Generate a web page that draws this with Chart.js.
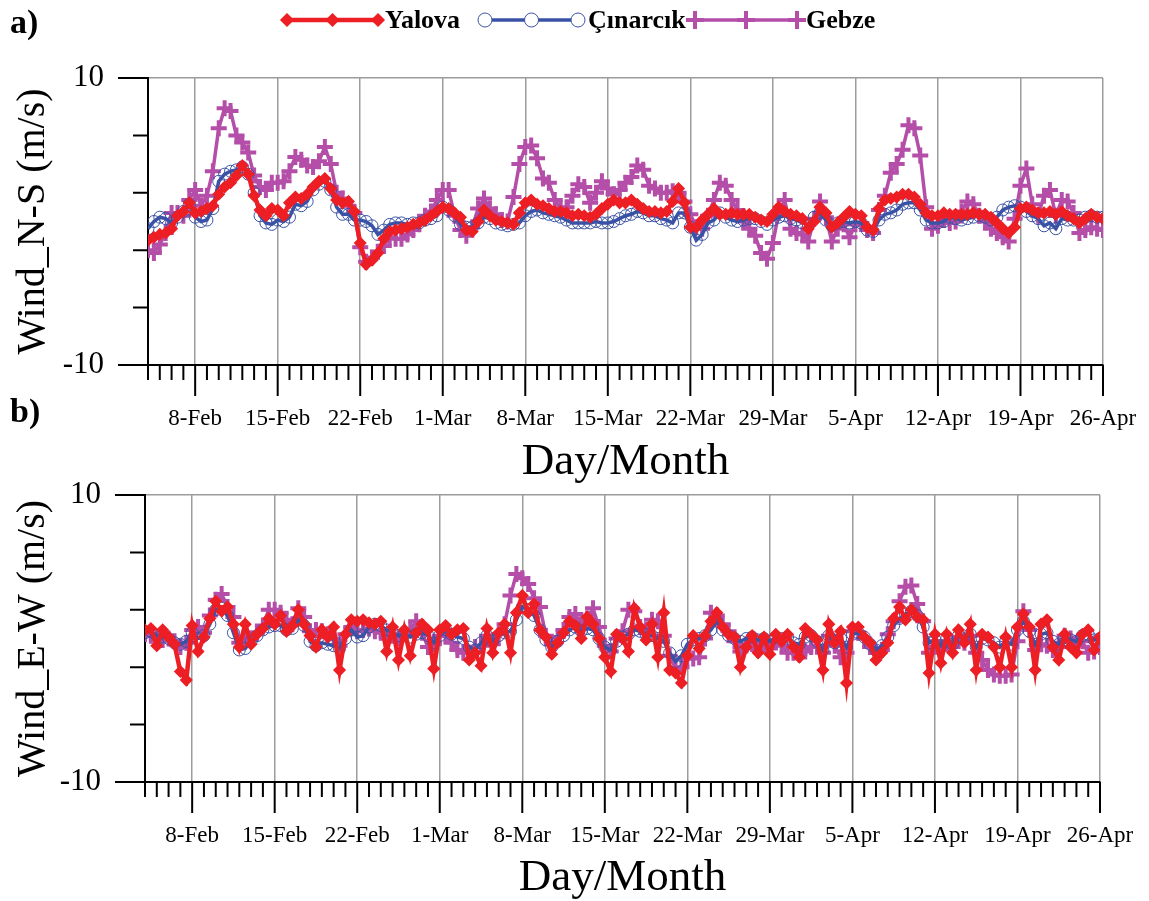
<!DOCTYPE html>
<html>
<head>
<meta charset="utf-8">
<script src="https://cdn.jsdelivr.net/npm/chart.js"></script>
<style>
  body { margin: 0; background: #fff; width: 1149px; height: 901px; position: relative; overflow: hidden; }
  canvas { position: absolute; left: 0; }
  #chartA { top: 0; }
  #chartB { top: 440px; }
  .tag { position: absolute; left: 10px; font: bold 34px 'Liberation Serif', serif; line-height: 1; }
</style>
</head>
<body>
<canvas id="chartA" width="1149" height="485"></canvas>
<canvas id="chartB" width="1149" height="461"></canvas>
<div class="tag" style="top:5px">a)</div>
<div class="tag" style="top:394px">b)</div>
<script>
// samples every 12 h, day 0 = 4-Feb
const STEP = 0.5
const LAST_DAY = 81
const stations = ['Yalova', 'Çınarcık', 'Gebze']
const weekLabels = ['8-Feb', '15-Feb', '22-Feb', '1-Mar', '8-Mar', '15-Mar', '22-Mar', '29-Mar', '5-Apr', '12-Apr', '19-Apr', '26-Apr']
const weekDays = [4, 11, 18, 25, 32, 39, 46, 53, 60, 67, 74, 81]

// north-south component (m/s)
const yalovaNS = [
  -1.3,-1.1,-0.9,-0.8,-0.5,0.4,0.7,1.3,0.6,0.7,
  0.9,1.1,1.9,2.4,2.7,3.2,3.9,3.3,1.8,0.8,
  0.4,0.9,0.8,0.4,1.3,1.7,1.6,1.9,2.4,2.8,
  3.0,2.3,1.5,1.3,1.4,0.7,-1.5,-3.0,-2.7,-2.2,
  -1.2,-0.7,-0.6,-0.5,-0.4,-0.2,-0.1,0.1,0.4,0.7,
  1.0,0.9,0.6,0.3,-0.6,-0.7,0.0,0.8,0.4,0.1,
  0.0,-0.1,-0.2,0.6,1.3,1.5,1.2,1.1,0.9,0.7,
  0.7,0.6,0.4,0.5,0.4,0.3,0.5,0.9,1.2,1.5,
  1.3,1.3,1.5,1.2,0.9,0.7,0.7,0.6,0.7,1.4,
  2.3,1.3,-0.4,-0.4,0.1,0.5,0.9,0.5,0.5,0.6,
  0.5,0.5,0.5,0.3,0.1,0.0,0.5,1.0,0.7,0.5,
  0.4,0.2,-0.5,0.0,1.0,0.6,-0.4,-0.1,0.3,0.7,
  0.5,0.4,-0.4,-0.6,0.9,1.5,1.6,1.7,1.9,1.9,
  1.7,1.2,0.6,0.4,0.4,0.6,0.5,0.5,0.5,0.5,
  0.6,0.5,0.5,0.3,-0.1,-0.5,-0.8,-0.4,0.9,1.0,
  0.8,0.6,0.6,0.7,0.5,0.7,0.4,0.2,-0.1,0.2,
  0.5,0.3,0.2
]
const cinarcikNS = [
  -0.5,0.0,0.3,0.2,-0.1,0.3,0.7,1.2,0.3,0.0,
  0.1,0.9,2.8,3.3,3.5,3.6,3.8,3.3,2.0,0.4,
  -0.1,-0.2,0.1,0.0,0.3,1.2,1.1,1.4,2.2,2.6,
  2.8,2.2,1.0,0.5,0.5,0.1,0.1,0.0,-0.3,-0.9,
  -0.6,-0.2,-0.1,-0.1,-0.2,-0.1,-0.1,0.1,0.2,0.4,
  1.0,0.8,0.4,-0.2,-0.4,-0.4,-0.1,0.3,0.2,-0.1,
  -0.2,-0.3,-0.2,-0.1,0.4,0.7,0.8,0.6,0.5,0.4,
  0.3,0.1,-0.1,-0.1,-0.1,-0.1,0.0,-0.1,-0.1,0.0,
  0.2,0.4,0.5,0.7,0.6,0.4,0.4,0.2,0.1,-0.1,
  0.6,0.6,-0.4,-1.3,-0.9,-0.1,0.1,0.6,0.3,0.1,
  0.0,0.1,0.2,0.2,0.0,-0.2,0.1,0.3,0.4,0.2,
  0.1,-0.1,-0.2,0.3,0.6,0.1,-0.3,-0.1,0.0,-0.1,
  0.0,-0.1,-0.6,-0.7,0.1,0.5,0.6,0.8,1.2,1.3,
  1.3,0.8,0.1,-0.1,-0.1,0.0,0.3,0.2,0.1,0.2,
  0.3,0.4,0.3,0.1,0.3,0.8,1.0,1.1,1.0,0.7,
  0.4,0.2,-0.3,-0.1,-0.5,0.2,0.1,0.1,0.1,0.3,
  0.4,0.3,0.3
]
const gebzeNS = [
  -2.0,-2.2,-1.6,-0.8,0.6,0.6,0.4,1.5,2.2,1.1,
  1.8,3.5,6.5,7.9,7.7,6.0,5.5,4.8,3.2,2.4,
  2.2,2.7,2.7,2.8,3.5,4.5,4.3,3.9,3.8,4.2,
  5.2,4.0,2.0,1.6,1.1,0.6,-1.8,-2.8,-2.5,-2.1,
  -1.7,-1.1,-1.2,-1.2,-0.9,-0.6,-0.2,0.4,0.7,1.5,
  2.2,2.2,0.4,-0.6,-1.0,-0.4,0.9,1.6,0.9,0.5,
  0.1,0.0,1.7,4.0,5.2,5.3,4.4,3.0,2.7,1.5,
  0.9,1.0,1.8,2.6,2.4,1.3,2.0,2.8,2.3,1.9,
  2.2,2.7,3.1,3.9,3.6,2.5,2.3,2.0,2.0,2.1,
  2.0,1.4,0.5,-0.4,-0.5,0.4,1.5,2.7,2.5,1.5,
  0.8,0.0,-0.5,-1.0,-2.2,-2.6,-1.5,0.6,1.5,-0.5,
  -0.8,-0.9,-1.4,0.2,1.4,0.3,-1.4,-0.5,-0.2,-1.1,
  -0.2,-0.1,-0.6,-0.8,0.8,1.8,3.4,4.0,5.0,6.7,
  6.5,4.6,1.0,-0.5,-0.3,0.1,-0.1,0.0,0.7,1.4,
  1.2,0.4,0.0,-0.5,-0.8,-1.1,-1.4,0.2,2.5,3.7,
  1.2,0.4,1.8,2.2,0.4,1.5,1.4,0.6,-0.8,-0.6,
  -0.4,-0.5,-0.6
]

// east-west component (m/s)
const yalovaEW = [
  0.6,0.7,-0.5,0.6,0.1,-0.4,-2.3,-2.9,0.9,-0.9,
  0.1,1.4,2.6,1.9,2.2,1.0,-0.6,1.0,-0.4,0.3,
  0.7,1.4,1.0,1.6,0.5,0.9,2.0,1.0,0.2,-0.6,
  0.6,0.1,0.8,-2.2,0.3,1.3,1.2,1.3,1.1,1.0,
  1.2,-0.9,0.8,-1.5,0.6,-1.2,0.4,1.0,0.6,-2.1,
  0.6,0.9,0.3,0.6,0.7,-1.5,-1.0,-1.9,0.7,-1.0,
  0.4,1.0,-1.0,1.8,3.0,1.8,2.4,0.6,0.1,-1.1,
  -0.3,0.4,1.2,0.9,0.0,1.5,1.0,0.0,-1.3,-2.3,
  0.3,0.0,-0.9,2.1,0.8,-0.1,1.0,-1.3,1.8,-2.2,
  -2.4,-3.1,-1.2,0.2,-0.7,0.2,1.2,1.8,0.8,0.3,
  0.1,-2.0,-0.6,0.2,-1.0,0.1,-1.1,0.3,-0.2,0.3,
  -0.6,-1.3,0.7,0.3,-0.1,-2.2,1.0,-0.3,0.5,-3.1,
  0.8,0.8,0.1,-0.3,-1.5,-1.0,-0.3,1.4,2.2,1.3,
  2.0,1.5,1.3,-2.4,0.3,-1.7,0.3,-1.0,0.6,-0.3,
  1.0,-2.2,0.3,0.1,-0.6,-2.0,0.1,-2.0,0.8,1.7,
  0.8,-2.2,1.0,1.3,-0.6,-1.5,0.3,-0.6,-1.0,0.3,
  0.6,-0.8,0.1
]
const cinarcikEW = [
  0.4,0.5,0.2,0.1,0.0,-0.3,-0.4,-0.2,0.4,0.0,
  0.2,1.0,2.0,2.1,1.6,0.4,-0.8,-0.7,-0.2,0.2,
  0.6,0.8,0.9,0.9,0.6,0.7,1.3,0.9,-0.2,-0.5,
  -0.3,-0.4,-0.5,-0.7,0.0,0.6,0.1,0.2,0.8,1.0,
  0.9,0.6,0.4,0.2,0.3,0.1,0.3,0.4,0.2,-0.3,
  0.2,0.6,0.3,0.1,0.0,-0.6,-0.8,-0.3,0.2,-0.2,
  0.2,0.4,0.5,1.3,2.2,2.0,1.6,0.6,-0.1,-0.6,
  -0.2,0.2,0.6,0.8,0.5,0.7,0.6,0.0,-0.6,-0.8,
  -0.2,0.1,0.3,0.6,0.5,0.3,0.2,0.0,-0.2,-1.0,
  -1.6,-1.2,-0.4,-0.1,0.0,0.2,0.6,1.2,0.6,0.2,
  0.0,-0.2,0.0,0.1,-0.1,0.0,-0.2,0.1,0.0,0.1,
  -0.3,-0.4,0.1,0.2,-0.2,-0.8,0.2,-0.3,0.0,-0.6,
  0.3,0.4,0.1,-0.4,-0.8,-0.5,0.1,0.9,1.4,1.7,
  1.9,1.6,0.8,-0.3,-0.1,-0.5,0.0,-0.4,0.2,-0.1,
  0.3,-0.6,0.0,-0.1,-0.3,-0.6,-0.2,-0.4,0.6,1.2,
  0.5,-0.4,0.3,0.4,-0.2,-0.4,0.1,-0.1,-0.2,0.2,
  0.3,-0.1,0.0
]
const gebzeEW = [
  0.3,0.2,0.0,-0.1,0.0,-0.2,-0.6,-0.3,0.6,0.8,
  0.4,1.6,2.7,3.1,2.2,1.5,-0.3,-0.1,0.0,0.4,
  0.9,2.0,2.0,1.8,1.3,1.0,2.1,1.5,0.5,0.6,
  0.5,0.3,0.0,-0.5,0.3,0.8,0.5,0.6,0.7,0.5,
  0.4,0.1,0.2,0.0,0.3,0.6,1.2,0.4,-0.6,-0.4,
  0.2,0.2,-0.3,-0.8,-1.0,-1.0,-0.6,-0.5,0.2,-0.4,
  0.3,1.0,3.0,4.5,4.2,3.8,2.8,2.2,0.2,-0.4,
  0.1,0.6,1.5,1.7,1.0,1.4,2.1,0.8,-0.5,-0.9,
  0.0,0.5,2.0,1.9,0.8,0.6,1.3,1.2,0.2,-1.2,
  -2.1,-2.0,-1.4,-1.4,-1.3,0.0,1.8,1.6,1.0,0.5,
  -0.2,-0.9,-0.4,-0.2,-0.8,-0.5,-0.7,-0.2,-0.5,-1.0,
  -1.0,-1.1,-0.9,-0.6,-0.5,-1.0,0.2,-0.5,-1.3,-1.0,
  0.5,0.4,0.0,-0.6,-1.0,-0.8,0.3,1.2,2.6,3.6,
  3.7,2.4,1.2,-1.0,-0.2,-0.8,-0.3,-0.6,0.1,-0.3,
  0.2,-1.0,-1.5,-2.2,-2.5,-2.6,-2.6,-2.5,-0.2,1.9,
  0.6,-0.8,-0.4,-0.5,-0.8,-0.6,0.2,0.0,-0.3,-0.2,
  -1.0,-0.9,-0.6
]

const SERIF = "'Liberation Serif', 'Times New Roman', serif"
const RED = '#ed1f24'
const BLUE = '#3a52a5'
const MAGENTA = '#b44ea8'
const GRID = '#9c9c9c'

const styles = [
  { color: RED, pointStyle: 'rectRot', radius: 5.5, lineWidth: 4.5, fill: RED, pointBorder: 1.5 },
  { color: BLUE, pointStyle: 'circle', radius: 6, lineWidth: 3.5, fill: 'rgba(255,255,255,0)', pointBorder: 1 },
  { color: MAGENTA, pointStyle: 'cross', radius: 8, lineWidth: 3.5, fill: MAGENTA, pointBorder: 4 }
]
const legendMarker = [6, 7, 9]

const dayTicks = []
for (let d = 0; d <= LAST_DAY; d++) dayTicks.push({ value: d })
const valueTicks = []
for (let v = -10; v <= 10; v += 2) valueTicks.push({ value: v })

// outward tick marks: long ones on labelled values
const tickMarks = {
  id: 'tickMarks',
  afterDraw(chart) {
    const { ctx, chartArea, scales } = chart
    ctx.save()
    ctx.strokeStyle = '#000'
    ctx.lineWidth = 2
    ctx.beginPath()
    scales.x.ticks.forEach(t => {
      const x = scales.x.getPixelForValue(t.value)
      const len = weekDays.includes(t.value) ? 31 : 15
      ctx.moveTo(x, chartArea.bottom)
      ctx.lineTo(x, chartArea.bottom + len)
    })
    scales.y.ticks.forEach(t => {
      const y = scales.y.getPixelForValue(t.value)
      const len = t.value % 10 === 0 ? 30 : 15
      ctx.moveTo(chartArea.left, y)
      ctx.lineTo(chartArea.left - len, y)
    })
    ctx.stroke()
    ctx.restore()
  }
}

const drawMarker = (ctx, st, r, x, y) => {
  ctx.beginPath()
  if (st.pointStyle === 'rectRot') {
    ctx.moveTo(x, y - r); ctx.lineTo(x + r, y); ctx.lineTo(x, y + r); ctx.lineTo(x - r, y); ctx.closePath()
    ctx.fill(); ctx.stroke()
  } else if (st.pointStyle === 'circle') {
    ctx.arc(x, y, r, 0, Math.PI * 2)
    ctx.fillStyle = '#fff'
    ctx.fill(); ctx.stroke()
  } else {
    ctx.moveTo(x - r, y); ctx.lineTo(x + r, y); ctx.moveTo(x, y - r); ctx.lineTo(x, y + r)
    ctx.stroke()
  }
}

// legend with three markers on each sample line
const stationLegend = {
  id: 'stationLegend',
  afterDraw(chart) {
    const ctx = chart.ctx
    const rows = [[287, 378, 385], [485, 578, 588], [695, 797, 806]]
    const y = 20
    ctx.save()
    ctx.font = `bold 26px ${SERIF}`
    ctx.textBaseline = 'middle'
    rows.forEach(([x0, x1, tx], k) => {
      const st = styles[k]
      ctx.strokeStyle = st.color
      ctx.fillStyle = st.fill
      ctx.lineWidth = st.lineWidth
      ctx.beginPath(); ctx.moveTo(x0, y); ctx.lineTo(x1, y); ctx.stroke()
      ctx.lineWidth = st.pointBorder
      ;[x0, (x0 + x1) / 2, x1].forEach(x => drawMarker(ctx, st, legendMarker[k], x, y))
      ctx.fillStyle = '#000'
      ctx.fillText(stations[k], tx, y + 1)
    })
    ctx.restore()
  }
}

const makeChart = (id, series, yTitle, box, extraPlugins) => {
  const datasets = series.map((vals, k) => ({
    label: stations[k],
    data: vals.map((v, i) => ({ x: i * STEP, y: v })),
    borderColor: styles[k].color,
    borderWidth: styles[k].lineWidth,
    pointStyle: styles[k].pointStyle,
    pointRadius: styles[k].radius,
    pointBackgroundColor: styles[k].fill,
    pointBorderColor: styles[k].color,
    pointBorderWidth: styles[k].pointBorder,
    tension: 0
  }))
  return new Chart(document.getElementById(id), {
    type: 'line',
    data: { datasets },
    options: {
      responsive: false,
      animation: false,
      devicePixelRatio: 1,
      layout: { padding: { top: box.top, right: box.right, bottom: 0, left: 0 } },
      plugins: { legend: { display: false }, tooltip: { enabled: false } },
      scales: {
        x: {
          type: 'linear',
          min: 0,
          max: LAST_DAY,
          afterBuildTicks: s => { s.ticks = dayTicks.map(t => ({ ...t })) },
          afterFit: s => {
            s.height = box.xHeight
            s.paddingLeft = 0
            s.paddingRight = 0
          },
          ticks: {
            autoSkip: false,
            maxRotation: 0,
            padding: 40,
            color: '#000',
            font: { family: SERIF, size: 23 },
            callback: v => {
              const k = weekDays.indexOf(v)
              return k >= 0 ? weekLabels[k] : ''
            }
          },
          grid: {
            drawTicks: false,
            lineWidth: 1.5,
            color: c => (c.tick && weekDays.includes(c.tick.value)) ? GRID : 'rgba(0,0,0,0)'
          },
          border: { color: '#000', width: 2 },
          title: { display: true, text: 'Day/Month', color: '#000', font: { family: SERIF, size: 45, lineHeight: 1 }, padding: 0 }
        },
        y: {
          min: -10,
          max: 10,
          afterBuildTicks: s => { s.ticks = valueTicks.map(t => ({ ...t })) },
          afterFit: s => {
            s.width = box.left
            s.paddingTop = 0
            s.paddingBottom = 0
          },
          ticks: {
            padding: 44,
            color: '#000',
            font: { family: SERIF, size: 31 },
            callback: v => (v % 10 === 0 ? String(v) : '')
          },
          grid: {
            drawTicks: false,
            lineWidth: 1.5,
            color: c => (c.tick && (c.tick.value === 0 || c.tick.value === 10)) ? GRID : 'rgba(0,0,0,0)'
          },
          border: { color: '#000', width: 2 },
          title: { display: true, text: yTitle, color: '#000', font: { family: SERIF, size: 40, lineHeight: 1.2 }, padding: { top: 9, bottom: 0 } }
        }
      }
    },
    plugins: [tickMarks, ...extraPlugins]
  })
}

makeChart('chartA', [yalovaNS, cinarcikNS, gebzeNS], 'Wind_N-S (m/s)',
  { top: 78, right: 46, left: 148, xHeight: 120 }, [stationLegend])
makeChart('chartB', [yalovaEW, cinarcikEW, gebzeEW], 'Wind_E-W (m/s)',
  { top: 55, right: 49, left: 145, xHeight: 119 }, [])
</script>
</body>
</html>
